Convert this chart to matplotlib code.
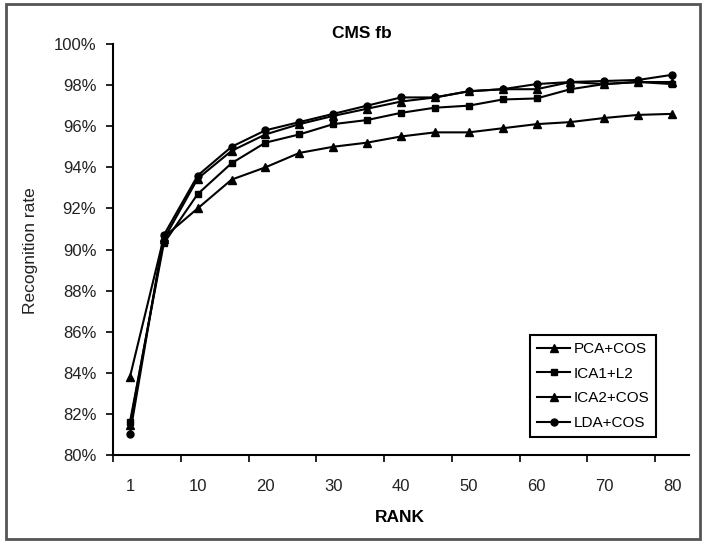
import numpy as np
import matplotlib.pyplot as plt
from matplotlib.patches import Rectangle
from matplotlib.ticker import FuncFormatter

plt.rcParams['font.family'] = ['Liberation Sans', 'DejaVu Sans']

ranks = ['1', '5', '10', '15', '20', '25', '30', '35', '40',
         '45', '50', '55', '60', '65', '70', '75', '80']
pca_cos = [81.45, 90.5, 93.45, 94.8, 95.6, 96.1, 96.5, 96.85, 97.2,
           97.4, 97.7, 97.8, 97.8, 98.15, 98.05, 98.15, 98.15]
ica1_l2 = [81.6, 90.3, 92.7, 94.2, 95.2, 95.6, 96.1, 96.3, 96.65,
           96.9, 97.0, 97.3, 97.35, 97.8, 98.05, 98.15, 98.05]
ica2_cos = [83.8, 90.6, 92.0, 93.4, 94.0, 94.7, 95.0, 95.2, 95.5,
            95.7, 95.7, 95.9, 96.1, 96.2, 96.4, 96.55, 96.6]
lda_cos = [81.0, 90.7, 93.6, 95.0, 95.8, 96.2, 96.6, 97.0, 97.4,
           97.4, 97.7, 97.8, 98.05, 98.15, 98.2, 98.25, 98.5]

fig = plt.figure(figsize=(7.06, 5.43), dpi=100)
ax = fig.add_axes([113/706, 1-455/543, (689-113)/706, (455-44)/543])

x = np.arange(len(ranks))
ax.plot(x, pca_cos, color='black', lw=1.5, marker='^', ms=5.5, label='PCA+COS')
ax.plot(x, ica1_l2, color='black', lw=1.5, marker='s', ms=5, label='ICA1+L2')
ax.plot(x, ica2_cos, color='black', lw=1.5, marker='^', ms=5.5, label='ICA2+COS')
ax.plot(x, lda_cos, color='black', lw=1.5, marker='o', ms=5, label='LDA+COS')

ax.set_xlim(-0.5, len(ranks) - 0.5)
ax.set_ylim(80, 100)
ax.set_yticks(np.arange(80, 101, 2))
ax.yaxis.set_major_formatter(FuncFormatter(lambda v, p: '%d%%' % v))

# category axis: ticks between categories, labels on every other one
ax.set_xticks(np.arange(-0.5, len(ranks) - 1, 2))
ax.set_xticklabels([])
ax.set_xticks(x[::2], minor=True)
ax.set_xticklabels(ranks[::2], minor=True)
ax.tick_params(axis='x', which='minor', length=0, pad=17, labelsize=12, colors='#222222')
ax.tick_params(axis='x', which='major', length=5, width=1.2)
ax.tick_params(axis='y', length=5, width=1.2, pad=7, labelsize=12, labelcolor='#222222')

for s in ['top', 'right']:
    ax.spines[s].set_visible(False)
for s in ['left', 'bottom']:
    ax.spines[s].set_linewidth(1.5)

fig.text(362/706, 1-33/543, 'CMS fb', fontsize=12.5, fontweight='bold',
         ha='center', va='center')
fig.text(400/706, 1-517/543, 'RANK', fontsize=12.5, fontweight='bold',
         ha='center', va='center')
fig.text(31/706, 1-251/543, 'Recognition rate', fontsize=12.5, rotation=90,
         ha='center', va='center', color='#222222')

leg = ax.legend(loc='upper left', bbox_to_anchor=(530/706, 1-335/543),
                bbox_transform=fig.transFigure, borderaxespad=0,
                fancybox=False, edgecolor='black', fontsize=11,
                handlelength=2.2, handletextpad=0.2, labelspacing=0.7,
                borderpad=0.45, framealpha=1)
leg.get_frame().set_linewidth(1.5)

fig.patches.append(Rectangle((6/706, 4/543), 694/706, 535/543,
                             transform=fig.transFigure, fill=False,
                             edgecolor='#555555', lw=2))

fig.savefig('out.png', dpi=100)
